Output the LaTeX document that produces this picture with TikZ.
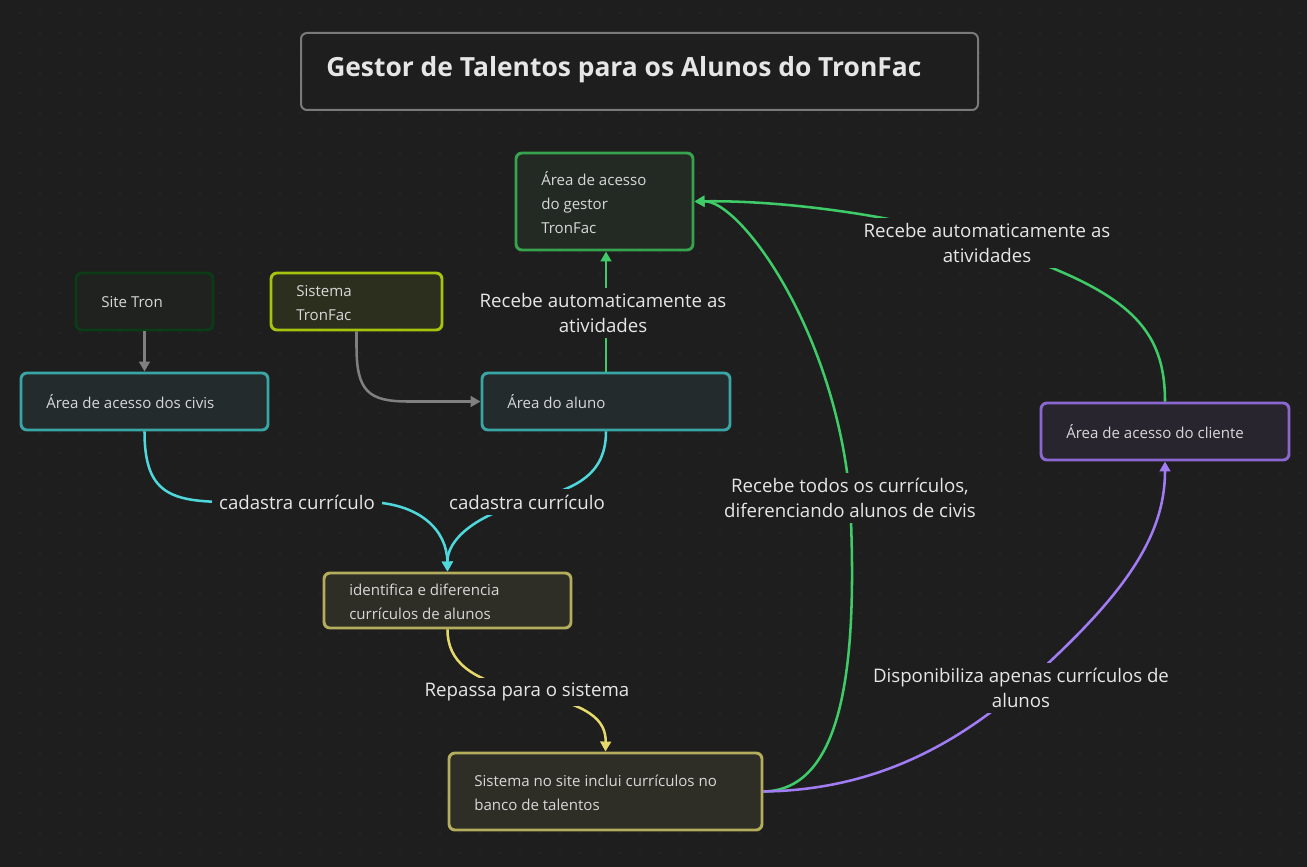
\documentclass[tikz,border=0pt]{standalone}
\usepackage{fontspec}
\setmainfont{Open Sans}
\usetikzlibrary{arrows.meta,fit}
\definecolor{bg}{HTML}{1E1E1E}
\definecolor{dotc}{HTML}{2E2E2E}
\definecolor{nodetext}{HTML}{D8D8D8}
\definecolor{lbltext}{HTML}{E6E6E6}
\definecolor{titleb}{HTML}{7A7A7A}
\definecolor{sitebd}{HTML}{0C3B17}\definecolor{sitefl}{HTML}{1F221F}
\definecolor{sisbd}{HTML}{A4C40E}\definecolor{sisfl}{HTML}{2C2E1E}
\definecolor{tealbd}{HTML}{3AA5A5}\definecolor{tealfl}{HTML}{232B2D}
\definecolor{gesbd}{HTML}{37A34E}\definecolor{gesfl}{HTML}{232A24}
\definecolor{clibd}{HTML}{8A68D0}\definecolor{clifl}{HTML}{28252F}
\definecolor{olbd}{HTML}{B3AD5C}\definecolor{olfl}{HTML}{2E2D26}
\definecolor{egray}{HTML}{808080}
\definecolor{ecyan}{HTML}{4FD8DC}
\definecolor{eyel}{HTML}{E4D96A}
\definecolor{egreen}{HTML}{3FCC68}
\definecolor{epurp}{HTML}{A27CF5}
\begin{document}
\begin{tikzpicture}[x=0.75pt,y=-0.75pt,
  box/.style={draw, line width=2.2pt, rounded corners=4.5pt, inner sep=0pt},
  txt/.style={anchor=west, align=left, text=nodetext, font=\fontsize{11.3}{18}\selectfont, inner sep=0pt},
  lbl/.style={fill=bg, text=lbltext, align=center, font=\fontsize{14}{19}\selectfont, inner xsep=5pt, inner ysep=4pt},
  conn/.style={line width=1.9pt, -{Triangle[length=7.5pt,width=8pt]}},
]
\useasboundingbox (0,0) rectangle (1307,867);
\fill[bg] (0,0) rectangle (1307,867);
\foreach \i in {1,...,65}{\foreach \j in {0,...,42}{\fill[dotc] (20*\i,13+20*\j) circle[radius=0.6pt];}}

% title
\node[box, draw=titleb, line width=1.5pt, fill=bg, fit={(301,33) (978,110)}] (title) {};
\node[anchor=west, text=lbltext, font=\fontsize{19.8}{24}\selectfont\bfseries, inner sep=0pt] (titletxt) at (326,70) {Gestor de Talentos para os Alunos do TronFac};

% boxes
\node[box, draw=sitebd, fill=sitefl, fit={(76,273) (213,330)}] (site) {};
\node[txt] (sitet) at (101,302) {Site Tron};
\node[box, draw=sisbd, fill=sisfl, fit={(271,273) (442,330)}] (sis) {};
\node[txt] (sist) at (296,303) {Sistema\\TronFac};
\node[box, draw=tealbd, fill=tealfl, fit={(21,373) (268,430)}] (civis) {};
\node[txt] (civist) at (46,402) {Área de acesso dos civis};
\node[box, draw=tealbd, fill=tealfl, fit={(482,373) (730,430)}] (aluno) {};
\node[txt] (alunot) at (507,402) {Área do aluno};
\node[box, draw=gesbd, fill=gesfl, fit={(516,153) (693,250)}] (gestor) {};
\node[txt] (gestort) at (541,203) {Área de acesso\\do gestor\\TronFac};
\node[box, draw=clibd, fill=clifl, fit={(1041,403) (1289,460)}] (cliente) {};
\node[txt] (clientet) at (1066,432) {Área de acesso do cliente};
\node[box, draw=olbd, fill=olfl, fit={(324,573) (571,628)}] (ident) {};
\node[txt] (identt) at (349,602) {identifica e diferencia\\currículos de alunos};
\node[box, draw=olbd, fill=olfl, fit={(449,753) (762,830)}] (banco) {};
\node[txt] (bancot) at (474,793) {Sistema no site inclui currículos no\\banco de talentos};

% label anchor coordinates
\coordinate (l1) at (297,502);
\coordinate (l2) at (527,502);
\coordinate (l3) at (527,692);
\coordinate (l4) at (603,313);
\coordinate (l5) at (850,498);
\coordinate (l6) at (987,243);
\coordinate (l6p) at (960,236);
\coordinate (l7) at (1021,688);

% connectors
\draw[conn, egray] (site.south) -- (civis.north);
\draw[conn, egray] (sis.south) -- ++(0,15) .. controls +(0,45) and +(-40,0) .. ([xshift=-54pt]aluno.west) -- (aluno.west);
\draw[conn, ecyan] (civis.south) .. controls +(0,62) and (170,502) .. (230,502) -- (l1) -- (370,502) .. controls (420,504) and (447,530) .. (ident.north);
\draw[conn, ecyan] (aluno.south) .. controls +(0,50) and (565,490) .. (l2) .. controls (475,515) and (447,540) .. (ident.north);
\draw[conn, eyel] (ident.south) .. controls +(0,32) and (470,680) .. (l3) .. controls (590,705) and (606,720) .. (banco.north);
\draw[conn, egreen] (aluno.north) -- (aluno.north |- gestor.south);
\draw[conn, egreen] (banco.east) .. controls (845,790) and (858,660) .. (l5) .. controls (835,330) and (740,200) .. (gestor.east);
\draw[conn, egreen] (cliente.north) .. controls (1165,320) and (1120,285) .. (l6p) .. controls (890,215) and (780,200) .. (gestor.east);
\draw[conn, epurp] (banco.east) .. controls (880,790) and (960,740) .. (l7) .. controls (1120,600) and (1165,540) .. (cliente.south);

% labels
\node[lbl] (lab1) at (l1) {cadastra currículo};
\node[lbl] (lab2) at (l2) {cadastra currículo};
\node[lbl] (lab3) at (l3) {Repassa para o sistema};
\node[lbl] (lab4) at (l4) {Recebe automaticamente as\\atividades};
\node[lbl] (lab5) at (l5) {Recebe todos os currículos,\\diferenciando alunos de civis};
\node[lbl] (lab6) at (l6) {Recebe automaticamente as\\atividades};
\node[lbl] (lab7) at (l7) {Disponibiliza apenas currículos de\\alunos};
\end{tikzpicture}
\end{document}
